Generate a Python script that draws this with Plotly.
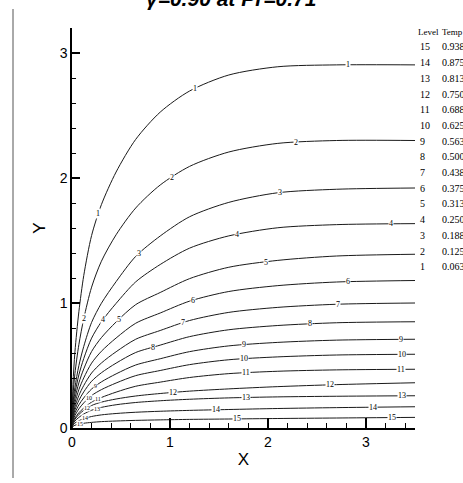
import numpy as np
import plotly.graph_objects as go

# ---- data ----
x_pts = [0, 0.01, 0.03, 0.07, 0.12, 0.2, 0.3, 0.45, 0.65, 0.9, 1.2, 1.6, 2.1, 2.7, 3.5]

level_1 = [0, 0.349, 0.610, 0.930, 1.220, 1.540, 1.787, 2.048, 2.309, 2.527, 2.696, 2.824, 2.890, 2.905, 2.905]
level_2 = [0, 0.253, 0.437, 0.667, 0.874, 1.127, 1.334, 1.546, 1.760, 1.944, 2.093, 2.208, 2.277, 2.300, 2.300]
level_3 = [0, 0.192, 0.326, 0.499, 0.653, 0.845, 0.998, 1.171, 1.373, 1.536, 1.690, 1.805, 1.882, 1.910, 1.920]
level_4 = [0, 0.164, 0.278, 0.425, 0.556, 0.719, 0.850, 0.997, 1.169, 1.308, 1.439, 1.537, 1.602, 1.627, 1.635]
level_5 = [0, 0.139, 0.236, 0.361, 0.473, 0.612, 0.723, 0.848, 0.987, 1.084, 1.195, 1.286, 1.341, 1.376, 1.390]
level_6 = [0, 0.118, 0.201, 0.307, 0.401, 0.519, 0.614, 0.720, 0.838, 0.920, 1.015, 1.092, 1.139, 1.168, 1.180]
level_7 = [0, 0.100, 0.170, 0.260, 0.340, 0.440, 0.520, 0.610, 0.710, 0.780, 0.860, 0.925, 0.965, 0.990, 1.000]
level_8 = [0, 0.085, 0.145, 0.221, 0.289, 0.374, 0.442, 0.519, 0.604, 0.663, 0.731, 0.786, 0.820, 0.842, 0.850]
level_9 = [0, 0.071, 0.121, 0.185, 0.241, 0.312, 0.369, 0.433, 0.504, 0.554, 0.611, 0.657, 0.685, 0.703, 0.710]
level_10 = [0, 0.059, 0.100, 0.153, 0.201, 0.260, 0.307, 0.360, 0.419, 0.460, 0.507, 0.546, 0.569, 0.584, 0.590]
level_11 = [0, 0.047, 0.080, 0.122, 0.160, 0.207, 0.244, 0.287, 0.334, 0.367, 0.404, 0.435, 0.454, 0.465, 0.470]
level_12 = [0, 0.040, 0.070, 0.108, 0.142, 0.180, 0.207, 0.232, 0.256, 0.276, 0.295, 0.313, 0.331, 0.347, 0.362]
level_13 = [0, 0.032, 0.056, 0.085, 0.112, 0.142, 0.165, 0.186, 0.204, 0.218, 0.230, 0.241, 0.249, 0.254, 0.258]
level_14 = [0, 0.024, 0.040, 0.058, 0.075, 0.092, 0.105, 0.116, 0.126, 0.134, 0.141, 0.148, 0.156, 0.163, 0.170]
level_15 = [0, 0.013, 0.022, 0.031, 0.038, 0.045, 0.051, 0.056, 0.061, 0.065, 0.069, 0.072, 0.076, 0.080, 0.085]

levels = [level_1, level_2, level_3, level_4, level_5, level_6, level_7, level_8,
          level_9, level_10, level_11, level_12, level_13, level_14, level_15]

# in-line label positions (level number, x position along the line)
label_level = [1, 1, 1, 2, 2, 2, 3, 3, 4, 4, 4, 5, 5, 6, 6, 7, 7, 8, 8,
               9, 9, 9, 10, 10, 10, 11, 11, 11, 12, 12, 12, 13, 13, 13, 14, 14, 14, 15, 15, 15]
label_x = [0.27, 1.26, 2.82, 0.12, 1.02, 2.29, 0.68, 2.12, 0.32, 1.68, 3.26, 0.48, 1.98,
           1.23, 2.82, 1.13, 2.71, 0.83, 2.43,
           0.24, 1.76, 3.36, 0.17, 1.76, 3.37, 0.27, 1.78, 3.36, 0.15, 1.03, 2.63,
           0.25, 1.78, 3.37, 0.13, 1.47, 3.07, 0.08, 1.68, 3.27]

legend_levels = ["15", "14", "13", "12", "11", "10", "9", "8", "7", "6", "5", "4", "3", "2", "1"]
legend_temps = ["0.938", "0.875", "0.813", "0.750", "0.688", "0.625", "0.563", "0.500",
                "0.438", "0.375", "0.313", "0.250", "0.188", "0.125", "0.063"]

x_ticks = [0, 1, 2, 3]
y_ticks = [0, 1, 2, 3]

fig = go.Figure()
for ys in levels:
    fig.add_trace(go.Scatter(x=x_pts, y=ys, mode="lines",
                             line=dict(color="#1a1a1a", width=1, shape="spline", smoothing=0.8),
                             hoverinfo="skip", showlegend=False))

serif = "Liberation Serif, Times New Roman, serif"
sans = "Liberation Sans, Arial, sans-serif"

annotations = []
for lv, lx in zip(label_level, label_x):
    ly = float(np.interp(lx, x_pts, levels[lv - 1]))
    small = lx < 0.3 and lv >= 9
    annotations.append(dict(x=lx, y=ly, xref="x", yref="y", text=str(lv), showarrow=False,
                            font=dict(family=serif, size=6 if small else 8, color="black"),
                            bgcolor="white", borderpad=0))

# legend block at the right
row0 = 47
for i, (lv, tp) in enumerate(zip(legend_levels, legend_temps)):
    py = row0 + 15.7 * i
    yp = (428 - py) / 400
    annotations.append(dict(x=(418 - 72) / 343, y=yp, xref="paper", yref="paper", text=lv,
                            showarrow=False, xanchor="left", yanchor="middle",
                            font=dict(family=serif, size=10, color="black")))
    annotations.append(dict(x=(440 - 72) / 343, y=yp, xref="paper", yref="paper", text=tp,
                            showarrow=False, xanchor="left", yanchor="middle",
                            font=dict(family=serif, size=10, color="black")))
annotations.append(dict(x=(416 - 72) / 343, y=(428 - 32) / 400, xref="paper", yref="paper",
                        text="Level", showarrow=False, xanchor="left", yanchor="middle",
                        font=dict(family=serif, size=9, color="black")))
annotations.append(dict(x=(440 - 72) / 343, y=(428 - 32) / 400, xref="paper", yref="paper",
                        text="Temp", showarrow=False, xanchor="left", yanchor="middle",
                        font=dict(family=serif, size=9, color="black")))

# title, cut off at the top of the page
annotations.append(dict(x=(231 - 72) / 343, y=(428 + 1) / 400, xref="paper", yref="paper",
                        text="<b><i>γ=0.90 at Pr=0.71</i></b>", showarrow=False,
                        xanchor="center", yanchor="middle",
                        font=dict(family=sans, size=21, color="black")))

fig.update_layout(
    width=463, height=483,
    margin=dict(l=72, r=48, t=28, b=55),
    paper_bgcolor="white", plot_bgcolor="white",
    showlegend=False,
    annotations=annotations,
    shapes=[dict(type="line", xref="paper", yref="paper",
                 x0=(13 - 72) / 343, x1=(13 - 72) / 343,
                 y0=(428 - 9) / 400, y1=(428 - 478) / 400,
                 line=dict(color="#555555", width=1))],
)
fig.update_xaxes(range=[0, 3.5], tickvals=x_ticks, ticks="inside", ticklen=10, tickwidth=1.5,
                 tickcolor="black", showline=True, linecolor="black", linewidth=1.5,
                 showgrid=False, zeroline=False,
                 minor=dict(dtick=0.2, ticks="inside", ticklen=5, tickcolor="black", tickwidth=1),
                 tickfont=dict(family=sans, size=14, color="black"),
                 title=dict(text="X", font=dict(family=sans, size=17, color="black"), standoff=5))
fig.update_yaxes(range=[0, 3.2], tickvals=y_ticks, ticks="inside", ticklen=8, tickwidth=1.5,
                 tickcolor="black", showline=True, linecolor="black", linewidth=1.5,
                 showgrid=False, zeroline=False,
                 minor=dict(dtick=0.2, ticks="inside", ticklen=4, tickcolor="black", tickwidth=1),
                 tickfont=dict(family=sans, size=14, color="black"),
                 title=dict(text="Y", font=dict(family=sans, size=17, color="black"), standoff=10))

fig.write_html("out.html")
